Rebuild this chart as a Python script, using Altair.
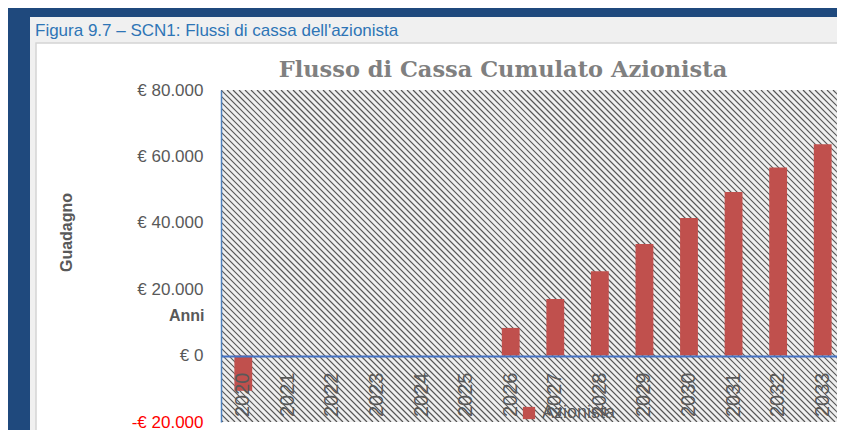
import altair as alt
import pandas as pd

# ---- data ----
years = ["2020", "2021", "2022", "2023", "2024", "2025", "2026",
         "2027", "2028", "2029", "2030", "2031", "2032", "2033"]
values = [-10600, -400, 0, 0, 0, -300, 8340,
          17080, 25400, 33640, 41470, 49300, 56630, 63650]
series_name = "Azionista"
y_ticks = [-20000, 0, 20000, 40000, 60000, 80000]
caption = "Figura 9.7 – SCN1: Flussi di cassa dell'azionista"
chart_title = "Flusso di Cassa Cumulato Azionista"

df = pd.DataFrame({"anno": years, "valore": values, "serie": series_name})

W, H = 616, 332
one = alt.Data(values=[{}])
GRAY_TXT = "#595959"
FONT = "Liberation Sans"

# page decoration (grey panel + white card)
panel = alt.Chart(one).mark_rect(color="#F0F0F0").encode(
    x=alt.value(-191), x2=alt.value(660), y=alt.value(-73), y2=alt.value(380))
card = alt.Chart(one).mark_rect(fill="white", stroke="#D4D4D4", strokeWidth=1.5).encode(
    x=alt.value(-185), x2=alt.value(660), y=alt.value(-47), y2=alt.value(343))

# hatched plot area
hatch_bg = alt.Chart(one).mark_rect(color="#EFEFEF").encode(
    x=alt.value(0), x2=alt.value(W + 10), y=alt.value(0), y2=alt.value(H))
hatch = alt.Chart(alt.sequence(start=-H - 10, stop=W + 10, step=6, as_="k")).transform_calculate(
    k2=f"datum.k + {H}"
).mark_rule(clip=True, color="#555555", strokeWidth=1.2).encode(
    x=alt.X("k:Q", scale=None, axis=None),
    x2="k2:Q",
    y=alt.value(0),
    y2=alt.value(H),
)

caption_txt = alt.Chart(one).mark_text(
    text=caption, align="left", baseline="middle", font=FONT, fontSize=17, color="#2E75B6"
).encode(x=alt.value(-186), y=alt.value(-59))

title_txt = alt.Chart(one).mark_text(
    text=chart_title, align="center", baseline="middle", font="DejaVu Serif",
    fontSize=22.5, fontWeight="bold", color="#808080"
).encode(x=alt.value(282), y=alt.value(-20))

bars = alt.Chart(df).mark_bar(clip=True).encode(
    x=alt.X("anno:N", sort=years,
            scale=alt.Scale(range=[0, 624], paddingInner=0.6, paddingOuter=0.3),
            axis=alt.Axis(labelAngle=270, labelFont=FONT, labelFontSize=20, labelColor=GRAY_TXT,
                          labelPadding=16, ticks=False, domainColor="#4472C4", domainWidth=2,
                          offset=-66, title="Anni", titleFont=FONT, titleFontSize=16,
                          titleFontWeight="bold", titleColor=GRAY_TXT, titleX=-17, titleY=-41,
                          titleAlign="right", titleBaseline="middle", zindex=1)),
    y=alt.Y("valore:Q",
            scale=alt.Scale(domain=[-20000, 80000], nice=False, zero=False),
            axis=alt.Axis(values=y_ticks, grid=False, ticks=False,
                          labelExpr="(datum.value < 0 ? '-€ ' : '€ ') + replace(format(abs(datum.value), ','), ',', '.')",
                          labelColor={"expr": "datum.value < 0 ? '#FF0000' : '#595959'"},
                          labelFont=FONT, labelFontSize=17, labelPadding=18,
                          domainColor="#4F81BD", domainWidth=1.5,
                          title="Guadagno", titleFont=FONT, titleFontSize=16, titleFontWeight="bold",
                          titleColor=GRAY_TXT, titleX=-155, titleY=142, titleAngle=270,
                          titleAlign="center", titleBaseline="middle", zindex=1)),
    color=alt.Color("serie:N", scale=alt.Scale(range=["#C0504D"]),
                    legend=alt.Legend(orient="none", legendX=299, legendY=314, title=None,
                                      symbolType="square", symbolSize=150, symbolStrokeWidth=0,
                                      labelFont=FONT, labelFontSize=18, labelColor=GRAY_TXT,
                                      padding=0, zindex=1)),
)

chart = alt.layer(panel, card, hatch_bg, hatch, caption_txt, title_txt, bars).resolve_scale(
    x="independent", y="independent"
).properties(
    width=W, height=H,
    padding={"left": 213, "top": 82, "right": 0, "bottom": 8},
    autosize="none",
).configure(background="#1F497D").configure_view(stroke="transparent")

chart.save("out.html", embed_options={"renderer": "svg", "actions": False})
